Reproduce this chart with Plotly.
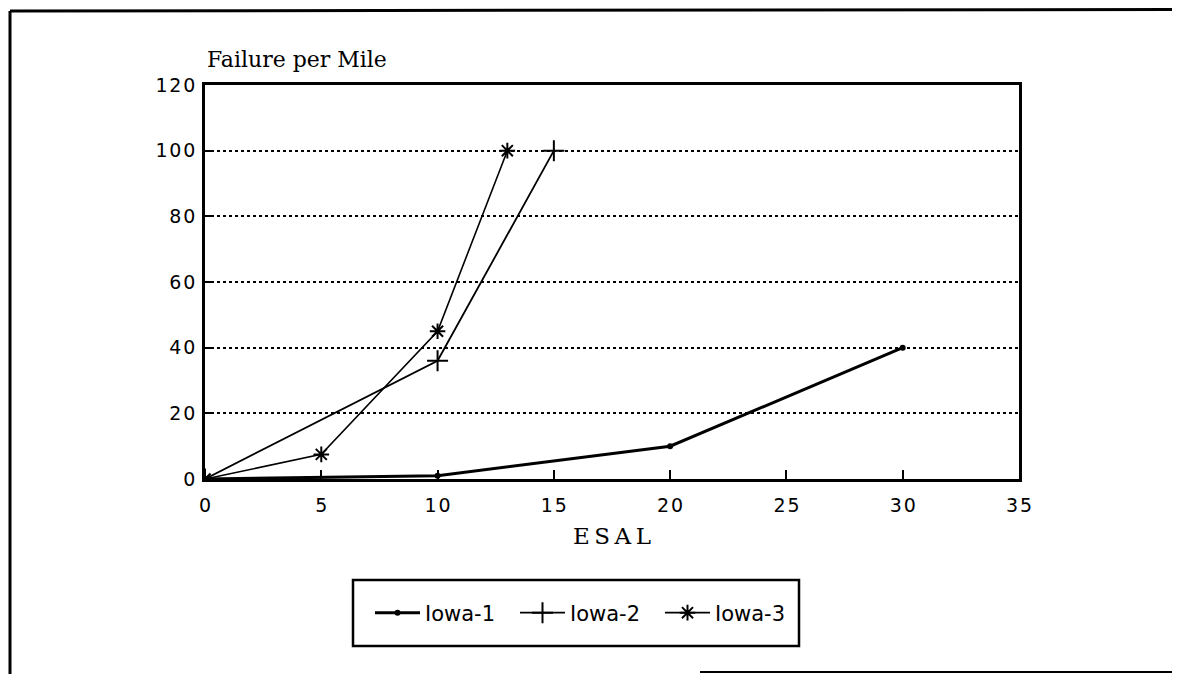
import plotly.graph_objects as go

# data
iowa1_x = [0, 10, 20, 30]
iowa1_y = [0, 1, 10, 40]
iowa2_x = [0, 10, 15]
iowa2_y = [0, 36, 100]
iowa3_x = [0, 5, 10, 13]
iowa3_y = [0, 7.5, 45, 100]

x_ticks = [0, 5, 10, 15, 20, 25, 30, 35]
y_ticks = [0, 20, 40, 60, 80, 100, 120]

HS = "\u200a"  # hair space, the old chart spaces its digits out
TS = "\u2009"  # thin space

OFF = 8  # the page body margin
W, H = 1180 - OFF, 674 - OFF
L, R, T, B = 205, 1019, 85, 479   # plot area, in screen pixels


def px(xp):
    return (xp - L) / (R - L)


def py(yp):
    return (B - yp) / (B - T)


fig = go.Figure()
fig.add_trace(go.Scatter(
    x=iowa1_x, y=iowa1_y, mode="lines+markers", name="Iowa-1",
    line=dict(color="black", width=3),
    marker=dict(symbol="circle", size=6, color="black"),
))
fig.add_trace(go.Scatter(
    x=iowa2_x, y=iowa2_y, mode="lines+markers", name="Iowa-2",
    line=dict(color="black", width=1.8),
    marker=dict(symbol="cross-thin", size=15, line=dict(color="black", width=2)),
))
fig.add_trace(go.Scatter(
    x=iowa3_x, y=iowa3_y, mode="lines+markers", name="Iowa-3",
    line=dict(color="black", width=1.6),
    marker=dict(symbol="asterisk", size=13, line=dict(color="black", width=2)),
))

tick_font = dict(family="DejaVu Sans", size=19, color="black")

fig.update_xaxes(
    range=[0, 35], tickvals=x_ticks, ticktext=[HS.join(str(v)) for v in x_ticks],
    ticks="inside", ticklen=9, tickwidth=2, tickcolor="black",
    showline=True, linecolor="black", linewidth=2.5, mirror=True,
    showgrid=False, zeroline=False, tickfont=tick_font, ticklabelstandoff=7,
    title=dict(text=TS.join("ESAL"), font=dict(family="DejaVu Serif", size=23, color="black"),
               standoff=14),
)
fig.update_yaxes(
    range=[0, 120], tickvals=y_ticks, ticktext=[HS.join(str(v)) for v in y_ticks],
    ticks="inside", ticklen=9, tickwidth=2, tickcolor="black",
    showline=True, linecolor="black", linewidth=2.5, mirror=True,
    showgrid=True, gridcolor="black", gridwidth=1.5, griddash="dot",
    zeroline=False, tickfont=tick_font, ticklabelstandoff=3,
)

# outer page frame lines
fig.add_shape(type="line", xref="paper", yref="paper",
              x0=px(10), x1=px(10), y0=py(11), y1=py(680),
              line=dict(color="black", width=3))
fig.add_shape(type="line", xref="paper", yref="paper",
              x0=px(10), x1=px(1190), y0=py(11), y1=py(9.5),
              line=dict(color="black", width=3))
fig.add_shape(type="line", xref="paper", yref="paper",
              x0=px(700), x1=px(1190), y0=py(672), y1=py(672),
              line=dict(color="black", width=2))
# legend box
fig.add_shape(type="rect", xref="paper", yref="paper",
              x0=px(353), x1=px(799), y0=py(580), y1=py(646),
              line=dict(color="black", width=2.5))

fig.add_annotation(
    text="Failure per Mile", xref="paper", yref="paper",
    x=px(205), y=py(74), xanchor="left", yanchor="bottom", showarrow=False,
    font=dict(family="DejaVu Serif", size=22, color="black"),
)

fig.update_layout(
    width=W, height=H,
    margin=dict(l=L - OFF, r=W - (R - OFF), t=T - OFF, b=H - (B - OFF)),
    paper_bgcolor="white", plot_bgcolor="white",
    showlegend=True,
    legend=dict(
        orientation="h", x=px(370), y=py(613), xanchor="left", yanchor="middle",
        borderwidth=0, bgcolor="rgba(0,0,0,0)",
        font=dict(family="DejaVu Sans", size=21, color="black"),
        itemwidth=45, entrywidth=85,
    ),
)

fig.write_html("out.html")
